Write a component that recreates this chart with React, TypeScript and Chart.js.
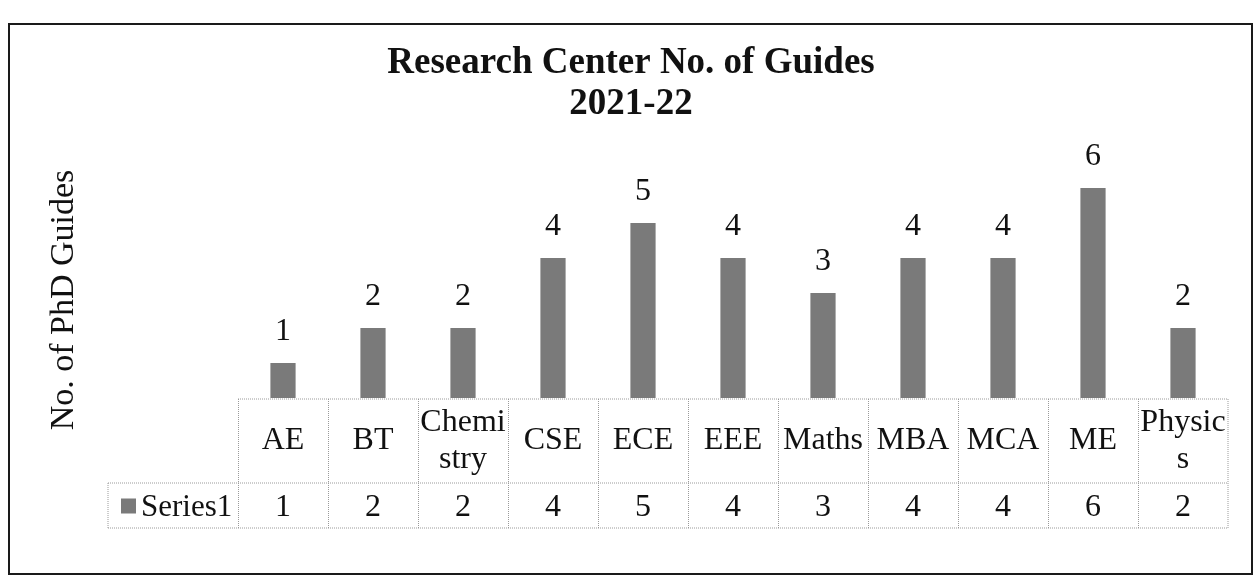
import React, { useEffect, useRef } from "react";
import { Chart, registerables } from "chart.js";

Chart.register(...registerables);

const categories = ["AE", "BT", "Chemistry", "CSE", "ECE", "EEE", "Maths", "MBA", "MCA", "ME", "Physics"];
const categoryLines = [["AE"], ["BT"], ["Chemi", "stry"], ["CSE"], ["ECE"], ["EEE"], ["Maths"], ["MBA"], ["MCA"], ["ME"], ["Physic", "s"]];
const series1 = [1, 2, 2, 4, 5, 4, 3, 4, 4, 6, 2];
const seriesName = "Series1";
const titleLines = ["Research Center No. of Guides", "2021-22"];
const yTitle = "No. of PhD Guides";

const SERIF = "'Liberation Serif', 'Times New Roman', serif";
const BAR_COLOR = "#7a7a7a";

const decorPlugin = {
  id: "decor",
  afterDraw(chart: any) {
    const { ctx, chartArea, scales } = chart;
    const x = scales.x;
    const n = categories.length;
    const half = (x.getPixelForValue(1) - x.getPixelForValue(0)) / 2;
    const left = chartArea.left;
    const right = chartArea.right;
    const headTop = chartArea.bottom + 1;
    const headBottom = headTop + 84;
    const rowBottom = headBottom + 45;
    const legendLeft = 108;

    ctx.save();
    // outer border
    ctx.strokeStyle = "#1a1a1a";
    ctx.lineWidth = 2;
    ctx.strokeRect(9, 24, 1243, 550);

    // title
    ctx.fillStyle = "#111";
    ctx.textAlign = "center";
    ctx.textBaseline = "middle";
    ctx.font = `bold 37px ${SERIF}`;
    ctx.fillText(titleLines[0], 631, 63);
    ctx.fillText(titleLines[1], 631, 104);

    // y title
    ctx.save();
    ctx.translate(64, 300);
    ctx.rotate(-Math.PI / 2);
    ctx.font = `34px ${SERIF}`;
    ctx.fillText(yTitle, 0, 0);
    ctx.restore();

    // data labels
    ctx.font = `32px ${SERIF}`;
    const meta = chart.getDatasetMeta(0);
    meta.data.forEach((bar: any, i: number) => {
      ctx.fillText(String(series1[i]), bar.x, bar.y - 31);
    });

    // table grid (dotted)
    ctx.strokeStyle = "#9a9a9a";
    ctx.lineWidth = 1;
    ctx.setLineDash([1, 1]);
    ctx.beginPath();
    ctx.moveTo(left, headTop);
    ctx.lineTo(right, headTop);
    ctx.moveTo(legendLeft, headBottom);
    ctx.lineTo(right, headBottom);
    ctx.moveTo(legendLeft, rowBottom);
    ctx.lineTo(right, rowBottom);
    ctx.moveTo(legendLeft, headBottom);
    ctx.lineTo(legendLeft, rowBottom);
    for (let i = 0; i < n; i++) {
      const bx = Math.round(x.getPixelForValue(i) - half) + 0.5;
      ctx.moveTo(bx, headTop);
      ctx.lineTo(bx, rowBottom);
    }
    ctx.moveTo(right, headTop);
    ctx.lineTo(right, rowBottom);
    ctx.stroke();
    ctx.setLineDash([]);

    // category labels
    ctx.fillStyle = "#111";
    ctx.font = `32px ${SERIF}`;
    const headMid = (headTop + headBottom) / 2;
    const rowMid = (headBottom + rowBottom) / 2;
    categoryLines.forEach((lines, i) => {
      const cx = x.getPixelForValue(i);
      const lh = 37;
      const start = headMid - ((lines.length - 1) * lh) / 2;
      lines.forEach((t, j) => ctx.fillText(t, cx, start + j * lh));
      ctx.fillText(String(series1[i]), cx, rowMid + 2);
    });

    // legend key
    ctx.fillStyle = BAR_COLOR;
    ctx.fillRect(121, rowMid - 7, 15, 15);
    ctx.fillStyle = "#111";
    ctx.textAlign = "left";
    ctx.font = `31px ${SERIF}`;
    ctx.fillText(seriesName, 141, rowMid + 2);
    ctx.restore();
  },
};

export default function App() {
  const ref = useRef<HTMLCanvasElement | null>(null);
  useEffect(() => {
    if (!ref.current) return;
    const chart = new Chart(ref.current, {
      type: "bar",
      data: {
        labels: categories,
        datasets: [
          {
            label: seriesName,
            data: series1,
            backgroundColor: BAR_COLOR,
            borderWidth: 0,
            categoryPercentage: 1,
            barPercentage: 0.28,
          },
        ],
      },
      options: {
        animation: false,
        responsive: true,
        maintainAspectRatio: false,
        layout: { padding: { left: 238, right: 32, top: 153, bottom: 187 } },
        plugins: { legend: { display: false }, title: { display: false }, tooltip: { enabled: false } },
        scales: {
          x: { display: false },
          y: { display: false, min: 0, max: 7 },
        },
      },
      plugins: [decorPlugin],
    });
    return () => chart.destroy();
  }, []);
  return (
    <div style={{ position: "fixed", left: 0, top: 0, width: 1260, height: 585, background: "#fff" }}>
      <canvas ref={ref} />
    </div>
  );
}
